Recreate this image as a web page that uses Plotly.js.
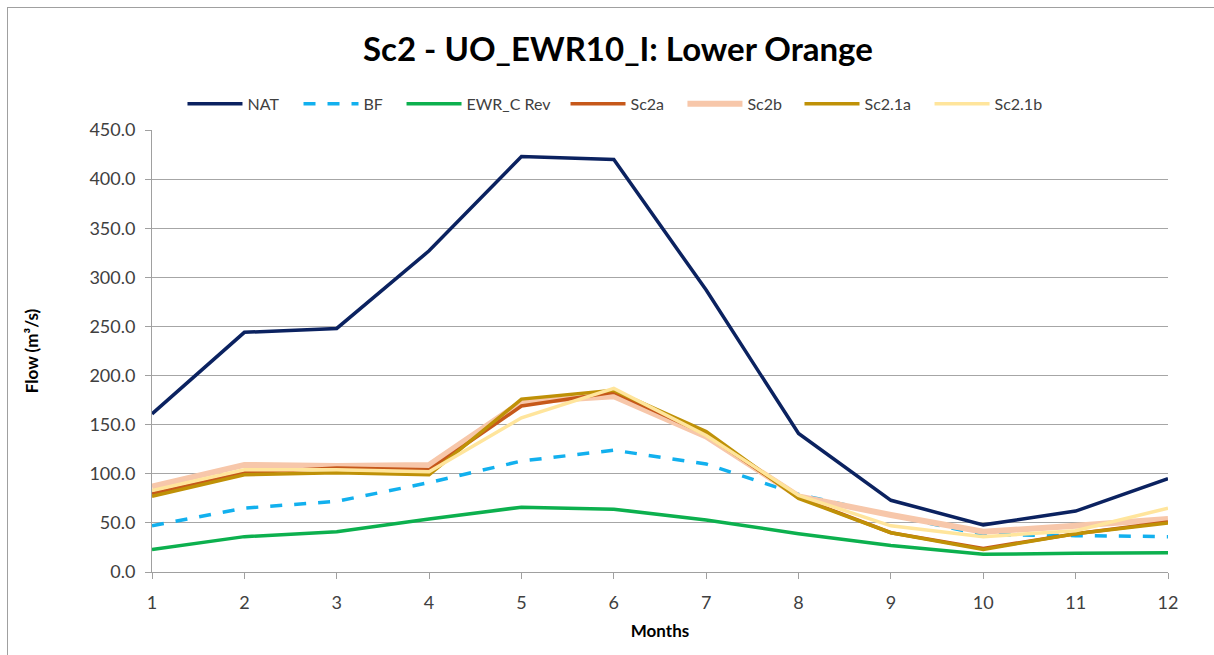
<!DOCTYPE html>
<html>
<head>
<meta charset="utf-8">
<script src="https://cdn.plot.ly/plotly-3.0.1.min.js"></script>
<style>
html,body{margin:0;padding:0;background:#fff;}
#wrap{position:relative;width:1214px;height:655px;}
#chart{width:1214px;height:655px;}
#frame{position:absolute;left:7px;top:7px;right:-2px;bottom:-2px;border-left:1px solid #a0a0a0;border-top:1px solid #a0a0a0;pointer-events:none;}
</style>
</head>
<body>
<div id="wrap"><div id="chart"></div><div id="frame"></div></div>
<script>
const months = [1,2,3,4,5,6,7,8,9,10,11,12];
const NAT    = [161,244,248,327,423,420,287,141,73,48,62,95];
const BF     = [47,65,72,91,113,124,110,79,58,38,37,36];
const EWR_C  = [23,36,41,54,66,64,53,39,27,18,19,19.5];
const Sc2a   = [80,101,106,104,169,183,140,76,40,24,39,51];
const Sc2b   = [87,109,108,109,173,179,138,77,58,41,47,54];
const Sc21a  = [77,99,101,99,176,185,143,75,40,23,39,50];
const Sc21b  = [83,104,104,102,157,187,139,78,47,36,42,65];
const yTicks = [0,50,100,150,200,250,300,350,400,450];

const font = "Lato, 'Liberation Sans', sans-serif";
function tr(name, y, color, width, dash, leg){
  return {x: months, y: y, name: name, type: 'scatter', mode: 'lines', legend: leg,
    line: {color: color, width: width, dash: dash || 'solid'}};
}
const data = [
  tr('NAT', NAT, '#0b2260', 3.5, null, 'legend'),
  tr('BF', BF, '#12b0ee', 3.5, '12px,12px', 'legend2'),
  tr('EWR_C Rev', EWR_C, '#0cb04e', 3.5, null, 'legend3'),
  tr('Sc2b', Sc2b, '#f7c7aa', 6, null, 'legend5'),
  tr('Sc2a', Sc2a, '#c6581a', 3.5, null, 'legend4'),
  tr('Sc2.1a', Sc21a, '#bf9107', 3.5, null, 'legend6'),
  tr('Sc2.1b', Sc21b, '#ffe59c', 3.5, null, 'legend7')
];

const layout = {
  width: 1214, height: 655,
  margin: {l: 152, r: 46, t: 130, b: 83},
  paper_bgcolor: '#fff', plot_bgcolor: '#fff',
  font: {family: font, color: '#404040', size: 17},
  title: {text: '<b>Sc2 - UO_EWR10_I: Lower Orange</b>', x: 0.509, xanchor: 'center', y: 0.924, yanchor: 'middle',
    font: {family: font, size: 33, color: '#000'}},
  showlegend: true,
  xaxis: {range: [1, 12], tickvals: months, ticktext: months.map(String), showgrid: false,
    showline: true, linecolor: '#a0a0a0', linewidth: 1, ticks: 'outside', ticklen: 6, tickcolor: '#a0a0a0',
    ticklabelstandoff: 8,
    zeroline: false, tickfont: {size: 18, color: '#404040'},
    title: {text: '<b>Months</b>', font: {size: 17, color: '#000'}, standoff: 13}},
  yaxis: {range: [0, 450], tickvals: yTicks, ticktext: yTicks.map(v=>v.toFixed(1)), showgrid: true,
    gridcolor: '#a6a6a6', gridwidth: 1, showline: true, linecolor: '#a0a0a0', linewidth: 1,
    ticks: 'outside', ticklen: 6, tickcolor: '#a0a0a0', ticklabelstandoff: 6,
    zeroline: false, tickfont: {size: 18, color: '#404040'},
    title: {text: '<b>Flow (m³/s)</b>', font: {size: 17, color: '#000'}, standoff: 46}}
};
const legendX = [0.0300, 0.1442, 0.2456, 0.4070, 0.5221, 0.6373, 0.7653];
legendX.forEach((lx, i) => {
  const key = i === 0 ? 'legend' : 'legend' + (i + 1);
  layout[key] = {orientation: 'h', x: lx, xanchor: 'left', y: 1.059, yanchor: 'middle',
    font: {family: font, size: 16, color: '#404040'}, itemwidth: 55, bgcolor: 'rgba(0,0,0,0)'};
});
Plotly.newPlot('chart', data, layout, {staticPlot: true, displayModeBar: false});
</script>
</body>
</html>
